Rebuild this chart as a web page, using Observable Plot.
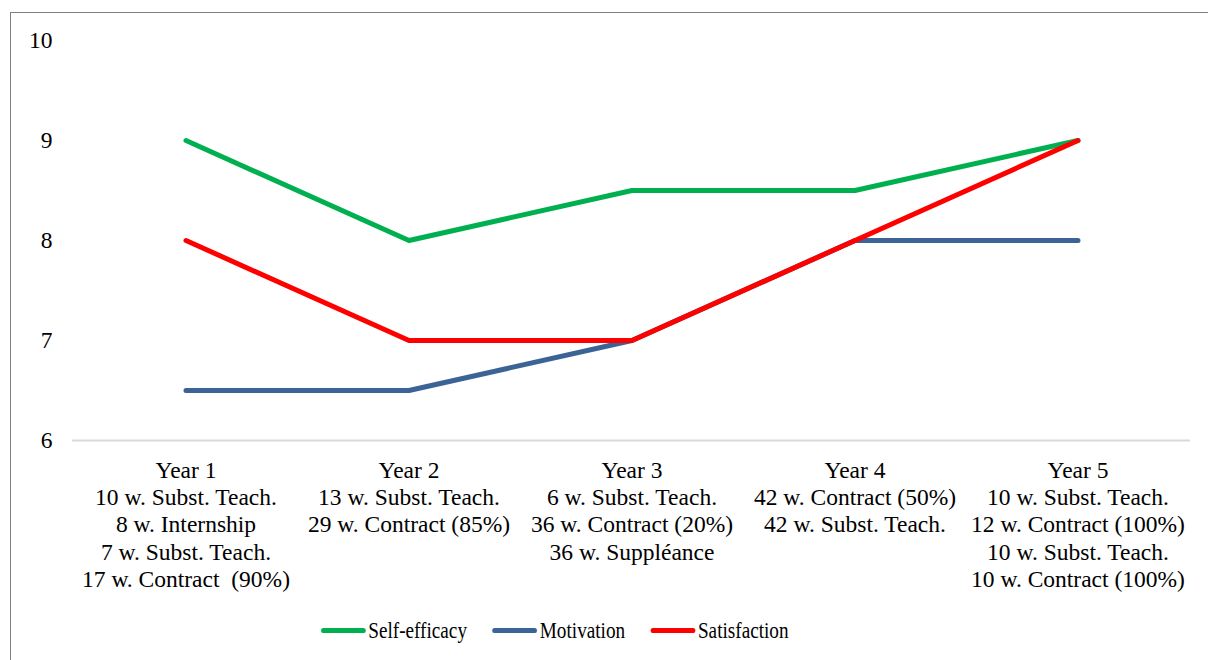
<!DOCTYPE html>
<html>
<head>
<meta charset="utf-8">
<script src="https://cdn.jsdelivr.net/npm/d3@7"></script>
<script src="https://cdn.jsdelivr.net/npm/@observablehq/plot@0.6"></script>
<style>
  html, body { margin: 0; padding: 0; background: #fff; }
  body { width: 1208px; height: 660px; position: relative; overflow: hidden; font-family: "Liberation Serif", "Times New Roman", serif; }
  #frame { position: absolute; left: 10px; top: 12px; width: 1220px; height: 680px; border: 1px solid #7f7f7f; box-sizing: border-box; }
  #chart { position: absolute; left: 0; top: 0; }
  #legend { position: absolute; left: 321px; top: 617px; display: flex; align-items: center; font-family: "Liberation Serif", serif; font-size: 24px; color: #000; transform: scaleX(0.8); transform-origin: 0 50%; white-space: nowrap; }
  .item { display: flex; align-items: center; margin-right: 32px; }
  .sw { width: 56px; height: 5px; border-radius: 3px; margin-right: 3px; }
</style>
</head>
<body>
<div id="frame"></div>
<div id="chart"></div>
<div id="legend"></div>
<script>
const categories = ["Year 1", "Year 2", "Year 3", "Year 4", "Year 5"];
const categoryLabels = [
  "Year 1\n10 w. Subst. Teach.\n8 w. Internship\n7 w. Subst. Teach.\n17 w. Contract  (90%)",
  "Year 2\n13 w. Subst. Teach.\n29 w. Contract (85%)",
  "Year 3\n6 w. Subst. Teach.\n36 w. Contract (20%)\n36 w. Suppléance",
  "Year 4\n42 w. Contract (50%)\n42 w. Subst. Teach.",
  "Year 5\n10 w. Subst. Teach.\n12 w. Contract (100%)\n10 w. Subst. Teach.\n10 w. Contract (100%)"
];
const seriesNames = ["Self-efficacy", "Motivation", "Satisfaction"];
const selfEfficacy = [9, 8, 8.5, 8.5, 9];
const motivation = [6.5, 6.5, 7, 8, 8];
const satisfaction = [8, 7, 7, 8, 9];
const colors = ["#00b050", "#3b6396", "#ff0000"];
const yTicks = [6, 7, 8, 9, 10];

const seriesValues = [selfEfficacy, motivation, satisfaction];
const rows = [];
seriesNames.forEach((s, i) => categories.forEach((c, j) => rows.push({series: s, cat: c, value: seriesValues[i][j]})));
const labelRows = categories.map((c, i) => ({cat: c, label: categoryLabels[i]}));
const FONT = "'Liberation Serif', 'Times New Roman', serif";

const chart = Plot.plot({
  width: 1208,
  height: 600,
  marginLeft: 72,
  marginRight: 18,
  marginTop: 40,
  marginBottom: 160,
  style: {fontFamily: FONT, fontSize: "23.5px", color: "#000", background: "transparent"},
  x: {domain: categories, type: "band", padding: 0, axis: null},
  y: {domain: [6, 10], axis: null},
  color: {domain: seriesNames, range: colors},
  marks: [
    Plot.ruleY([6], {stroke: "#d9d9d9", strokeWidth: 2}),
    Plot.axisY({ticks: yTicks, tickSize: 0, tickPadding: 20, label: null, tickFormat: d => String(d), fontSize: 23.5, fontFamily: FONT, fill: "#000"}),
    Plot.line(rows, {x: "cat", y: "value", z: "series", stroke: "series", strokeWidth: 5, strokeLinecap: "round", strokeLinejoin: "round"}),
    Plot.text(labelRows, {x: "cat", text: "label", frameAnchor: "bottom", lineAnchor: "top", dy: 18, lineHeight: 1.16, fontSize: 23.5, fontFamily: FONT, fill: "#000"})
  ]
});
document.getElementById("chart").appendChild(chart);

const legend = document.getElementById("legend");
seriesNames.forEach((s, i) => {
  const it = document.createElement("div");
  it.className = "item";
  it.innerHTML = `<div class="sw" style="background:${colors[i]}"></div><span>${s}</span>`;
  legend.appendChild(it);
});
</script>
</body>
</html>
